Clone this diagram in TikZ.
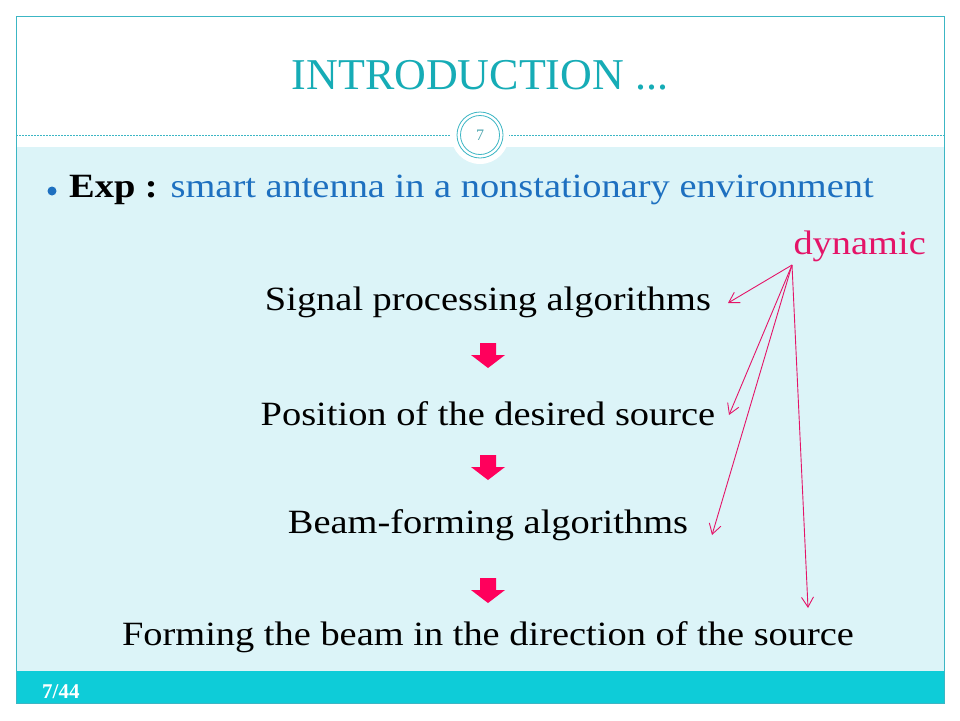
\documentclass[tikz,border=0pt]{standalone}
\usepackage{fontspec}
\setmainfont{Liberation Serif}
\newfontfamily\slideserif[FakeStretch=1.13]{Liberation Serif}
\usetikzlibrary{arrows.meta}
\definecolor{frameteal}{RGB}{60,182,196}
\definecolor{titleteal}{RGB}{22,172,182}
\definecolor{bodyblue}{RGB}{220,244,248}
\definecolor{footteal}{RGB}{14,204,216}
\definecolor{textblue}{RGB}{30,112,192}
\definecolor{dynpink}{RGB}{228,20,104}
\definecolor{arrowred}{RGB}{255,0,92}
\tikzset{
  line/.style={font=\slideserif\fontsize{34}{38}\selectfont, text=black, inner sep=0},
  pointer/.style={draw=dynpink, line width=0.9pt, -{Straight Barb[length=10pt,width=12pt]}},
}
\begin{document}
\begin{tikzpicture}[x=1pt,y=-1pt]
    \pgfmathsetmacro{\slideleft}{16}
    \pgfmathsetmacro{\slideright}{944}
    \pgfmathsetmacro{\slidetop}{16}
    \pgfmathsetmacro{\slidebottom}{703}
    \pgfmathsetmacro{\ruley}{135}
    \pgfmathsetmacro{\footy}{671}
    \providecommand{\blockarrow}[1]{\fill[arrowred] (480,#1) -- (496,#1) -- (496,#1+12) -- (505,#1+12) -- (488,#1+25) -- (471,#1+12) -- (480,#1+12) -- cycle;}
    \useasboundingbox (0,0) rectangle (960,720);
    \fill[white] (0,0) rectangle (960,720);
    \fill[bodyblue] (\slideleft,147) rectangle (\slideright,\footy);
    \fill[footteal] (\slideleft,\footy) rectangle (\slideright,\slidebottom);
    \draw[frameteal, line width=1pt] (\slideleft,\slidetop) rectangle (\slideright,\slidebottom);
    \draw[frameteal, line width=0.6pt, dash pattern=on 2pt off 1pt] (\slideleft,\ruley) -- (\slideright,\ruley);
    \fill[white] (480,\ruley) circle (29);
    \draw[frameteal, line width=0.8pt] (480,\ruley) circle (23);
    \draw[frameteal, line width=0.8pt] (480,\ruley) circle (19.5);
    \node[text=frameteal!70!gray, font=\fontsize{16}{18}\selectfont] (pagenum) at (480,\ruley) {7};
    \node[text=titleteal, font=\fontsize{44}{48}\selectfont] (title) at (480,75) {INTRODUCTION ...};
    % bullet line
    \fill[textblue] (52,191) circle (4.5);
    \node[anchor=west, inner sep=0, font=\slideserif\fontsize{34}{38}\selectfont] (exp) at (69,190) {\textbf{Exp :} \textcolor{textblue}{smart antenna in a nonstationary environment}};
    \node[anchor=east, inner sep=0, text=dynpink, font=\slideserif\fontsize{34}{38}\selectfont] (dyn) at (926,246) {dynamic};
    % chain of steps
    \node[line] (sig) at (488,302) {Signal processing algorithms};
    \node[line] (pos) at (488,414) {Position of the desired source};
    \node[line] (beam) at (488,525) {Beam-forming algorithms};
    \node[line] (form) at (488,637) {Forming the beam in the direction of the source};
    \blockarrow{343}
    \blockarrow{455}
    \blockarrow{578}
    \coordinate (fork) at (792,265);
    \coordinate (tosig) at (728,303);
    \coordinate (topos) at (729,415);
    \coordinate (tobeam) at (712,535);
    \coordinate (toform) at (808,608);
    \draw[pointer] (fork) -- (tosig);
    \draw[pointer] (fork) -- (topos);
    \draw[pointer] (fork) -- (tobeam);
    \draw[pointer] (fork) -- (toform);
    \node[anchor=west, inner sep=0, text=white, font=\bfseries\fontsize{21}{23}\selectfont] (slideno) at (42,692) {7/44};
\end{tikzpicture}
\end{document}
